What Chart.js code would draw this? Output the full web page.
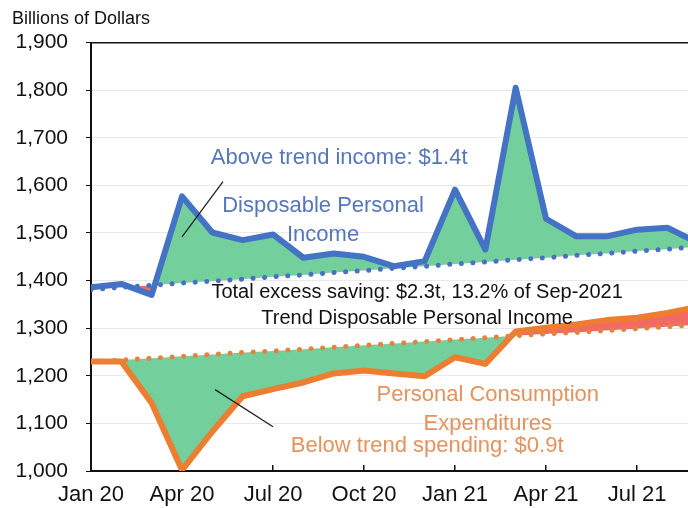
<!DOCTYPE html>
<html><head><meta charset="utf-8">
<script src="https://cdn.jsdelivr.net/npm/chart.js@4/dist/chart.umd.min.js"></script>
<style>html,body{margin:0;padding:0;background:#fff;overflow:hidden}canvas{display:block}</style>
</head><body>
<canvas id="c" width="688" height="508"></canvas>
<script>
// ---- data (billions of dollars, monthly) ----
const months = ['Jan 20','Feb 20','Mar 20','Apr 20','May 20','Jun 20','Jul 20','Aug 20','Sep 20','Oct 20','Nov 20','Dec 20',
                'Jan 21','Feb 21','Mar 21','Apr 21','May 21','Jun 21','Jul 21','Aug 21','Sep 21'];
const income        = [1386,1393,1370,1577,1501,1485,1497,1448,1457,1450,1430,1441,1591,1465,1805,1530,1493,1493,1507,1511,1480];
const incomeTrend   = [1381,1386,1390,1395,1399,1403,1408,1412,1417,1421,1426,1430,1435,1439,1444,1448,1453,1457,1462,1466,1471];
const spending      = [1230,1230,1143,1002,1083,1157,1172,1186,1205,1211,1205,1199,1239,1225,1293,1301,1308,1317,1322,1332,1345];
const spendingTrend = [1229,1233,1237,1241,1245,1249,1252,1256,1260,1264,1268,1272,1276,1280,1284,1288,1291,1295,1299,1303,1307];
const xTickLabels = ['Jan 20','Apr 20','Jul 20','Oct 20','Jan 21','Apr 21','Jul 21'];
const yTickValues = [1000,1100,1200,1300,1400,1500,1600,1700,1800,1900];

// ---- annotation leader lines (data coordinates) ----
const incomeLeader   = [{x:3.0,y:1492},{x:4.35,y:1608}];
const spendingLeader = [{x:4.09,y:1171},{x:6.0,y:1093}];

// ---- annotation texts (data coordinates of the text centre) ----
const BLUE_TXT = '#5676bb', ORANGE_TXT = '#e4935e', BLACK = '#111';
const notes = [
  {lines:['Above trend income: $1.4t'], x:8.18, y:1658, color:BLUE_TXT, size:22},
  {lines:['Disposable Personal','Income'], x:7.65, y:1526, color:BLUE_TXT, size:22},
  {lines:['Total excess saving: $2.3t, 13.2% of Sep-2021','Trend Disposable Personal Income'], x:10.75, y:1347, color:BLACK, size:20},
  {lines:['Personal Consumption','Expenditures'], x:13.08, y:1129, color:ORANGE_TXT, size:22},
  {lines:['Below trend spending: $0.9t'], x:11.08, y:1053, color:ORANGE_TXT, size:22}
];

const pts = arr => arr.map((v,i)=>({x:i,y:v}));
const FONT = "'Liberation Sans', Arial, sans-serif";
const GREEN = '#73cf9c', RED = '#f26a64';
const BLUE = '#4472c4', ORANGE = '#ed7d31';

const notePlugin = {
  id:'notes',
  afterDatasetsDraw(chart){
    const {ctx, scales:{x,y}} = chart;
    ctx.save();
    ctx.textAlign='center'; ctx.textBaseline='middle';
    notes.forEach(n=>{
      ctx.font = n.size+'px '+FONT;
      ctx.fillStyle = n.color;
      const cx = x.getPixelForValue(n.x), cy = y.getPixelForValue(n.y);
      const lh = n.size*1.3;
      const top = cy - (n.lines.length-1)*lh/2;
      n.lines.forEach((t,i)=>ctx.fillText(t,cx,top+i*lh));
    });
    ctx.restore();
  }
};

new Chart(document.getElementById('c'), {
  type:'line',
  data:{
    datasets:[
      {label:'Disposable Personal Income', data:pts(income), borderColor:BLUE, borderWidth:6, pointRadius:0, order:2,
       borderJoinStyle:'round', tension:0, fill:{target:1, above:GREEN, below:RED}},
      {label:'Income trend', data:pts(incomeTrend), borderColor:BLUE, borderWidth:5, pointRadius:0, order:1,
       borderDash:[0.1,11.5], borderCapStyle:'round', fill:false},
      {label:'Personal Consumption Expenditures', data:pts(spending), borderColor:ORANGE, borderWidth:6, pointRadius:0, order:2,
       borderJoinStyle:'round', tension:0, fill:{target:3, above:RED, below:GREEN}},
      {label:'Spending trend', data:pts(spendingTrend), borderColor:'#e2843f', borderWidth:5, pointRadius:0, order:1,
       borderDash:[0.1,11.5], borderCapStyle:'round', fill:false},
      {label:'lead1', data:incomeLeader, borderColor:'#222', borderWidth:1.3, pointRadius:0, fill:false, order:0},
      {label:'lead2', data:spendingLeader, borderColor:'#222', borderWidth:1.3, pointRadius:0, fill:false, order:0}
    ]
  },
  options:{
    responsive:false, animation:false, devicePixelRatio:1,
    layout:{padding:{left:12,right:0,top:0,bottom:0}},
    plugins:{
      legend:{display:false}, tooltip:{enabled:false},
      filler:{drawTime:'beforeDatasetsDraw'},
      title:{display:true, text:'Billions of Dollars', align:'start', color:'#111',
             font:{family:FONT, size:18, weight:'normal'}, padding:{top:8,bottom:13}}
    },
    scales:{
      x:{type:'linear', min:0, max:19.68, position:'bottom',
         afterBuildTicks(s){ s.ticks = xTickLabels.map(l=>({value:months.indexOf(l)})); },
         afterFit(s){ s.height = 37; },
         ticks:{color:'#111', font:{family:FONT,size:22}, padding:17, maxRotation:0, autoSkip:false,
                callback:(v)=>months[v]},
         grid:{drawOnChartArea:false, tickLength:-6, tickColor:'#111', lineWidth:1.5},
         border:{display:true, color:'#111', width:2}},
      xTop:{type:'linear', min:0, max:19.68, position:'top', display:true,
         afterFit(s){ s.height = 0; },
         ticks:{display:false}, grid:{display:false, drawTicks:false},
         border:{display:true, color:'#111', width:1.5}},
      y:{min:1000, max:1900,
         afterBuildTicks(s){ s.ticks = yTickValues.map(v=>({value:v})); },
         afterFit(s){ s.width = 79; },
         ticks:{color:'#111', font:{family:FONT,size:21}, padding:18,
                callback:(v)=>v.toLocaleString('en-US')},
         grid:{color:'#e9e9e9', lineWidth:1, tickLength:5, tickColor:'#111'},
         border:{display:true, color:'#111', width:2}}
    }
  },
  plugins:[notePlugin]
});
</script>
</body></html>
